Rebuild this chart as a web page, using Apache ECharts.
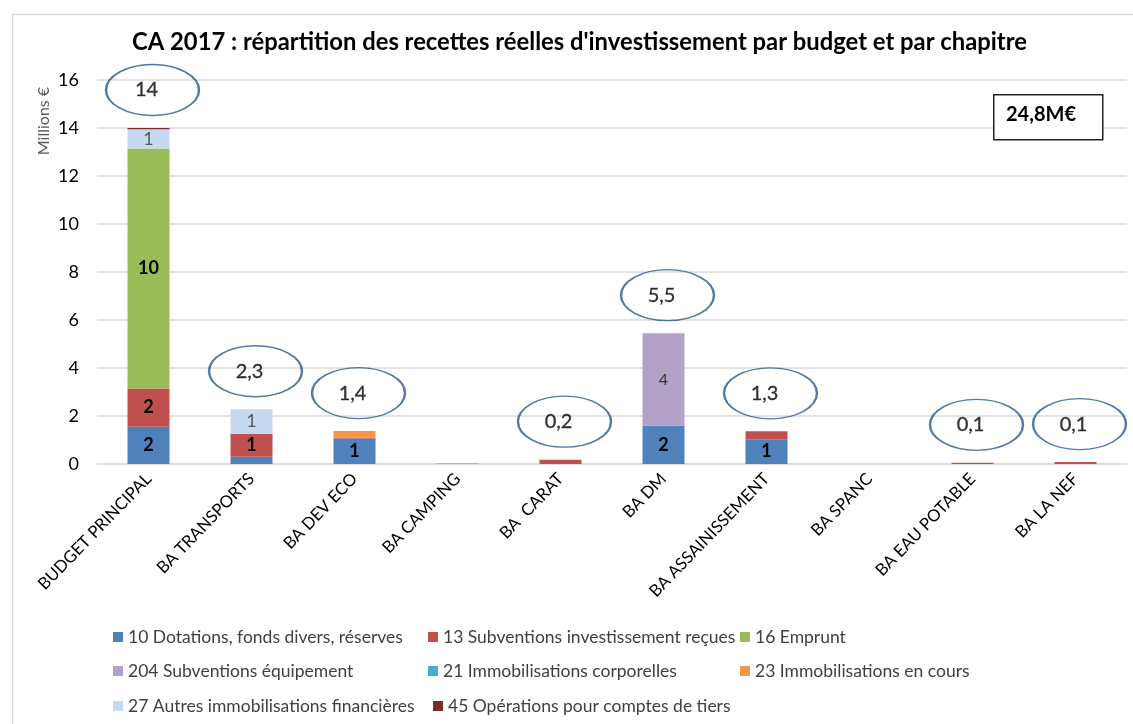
<!DOCTYPE html>
<html>
<head>
<meta charset="utf-8">
<script src="https://cdn.jsdelivr.net/npm/echarts@6/dist/echarts.min.js"></script>
<style>html,body{margin:0;padding:0;background:#fff}#c{width:1133px;height:724px}</style>
</head>
<body>
<div id="c"></div>
<script>
const categories = ['BUDGET PRINCIPAL','BA TRANSPORTS','BA DEV ECO','BA CAMPING','BA  CARAT','BA DM','BA ASSAINISSEMENT','BA SPANC','BA EAU POTABLE','BA LA NEF'];
const seriesNames = ['10 Dotations, fonds divers, réserves','13 Subventions investissement reçues','16 Emprunt','204 Subventions équipement','21 Immobilisations corporelles','23 Immobilisations en cours','27 Autres immobilisations financières','45 Opérations pour comptes de tiers'];
const dotations   = [1.55, 0.30, 1.06, 0,    0,    1.60, 1.03, 0, 0,    0];
const subventions = [1.60, 0.95, 0.04, 0,    0.18, 0,    0.33, 0, 0.05, 0.08];
const emprunt     = [10.00,0,    0,    0.03, 0,    0,    0,    0, 0,    0];
const subEquip    = [0,    0,    0,    0,    0,    3.85, 0,    0, 0,    0];
const immoCorp    = [0,    0,    0,    0,    0,    0,    0,    0, 0,    0];
const immoCours   = [0,    0,    0.27, 0,    0,    0,    0,    0, 0,    0];
const autresImmo  = [0.80, 1.03, 0,    0,    0,    0,    0,    0, 0,    0];
const opTiers     = [0.05, 0,    0,    0,    0,    0,    0,    0, 0,    0];
const totalLabels = ['14','2,3','1,4','','0,2','5,5','1,3','','0,1','0,1'];
const yTicks = [0,2,4,6,8,10,12,14,16];

const seriesValues = [dotations, subventions, emprunt, subEquip, immoCorp, immoCours, autresImmo, opTiers];
const colors = ['#4F81BD','#C0504D','#9BBB59','#B3A2C7','#4BACC6','#F79646','#C6D9F1','#772C2A'];
const labelStyles = [
  {color:'#000', fontWeight:'bold', fontSize:18},
  {color:'#000', fontWeight:'bold', fontSize:18},
  {color:'#000', fontWeight:'bold', fontSize:18},
  {color:'#333', fontWeight:'normal', fontSize:16},
  {color:'#000', fontWeight:'normal', fontSize:16},
  {color:'#000', fontWeight:'normal', fontSize:16},
  {color:'#595959', fontWeight:'normal', fontSize:18},
  {color:'#fff', fontWeight:'normal', fontSize:16}
];
const FONT = 'Lato';
const totals = categories.map((c,i)=>seriesValues.reduce((s,arr)=>s+arr[i],0));

const barSeries = seriesNames.map((name,k)=>({
  name: name,
  type: 'bar',
  stack: 'total',
  barWidth: 42,
  data: seriesValues[k],
  itemStyle: {color: colors[k]},
  label: {
    show: true,
    position: 'inside',
    fontFamily: FONT,
    color: labelStyles[k].color,
    fontWeight: labelStyles[k].fontWeight,
    fontSize: labelStyles[k].fontSize,
    formatter: p => p.value >= 0.5 ? String(Math.round(p.value)) : ''
  },
  emphasis: {disabled: true}
}));

const ellipsePath = 'path://M0,50 A50,50 0 1 1 100,50 A50,50 0 1 1 0,50 Z';
const bubbleSeries = {
  type: 'scatter',
  name: 'totaux',
  symbol: ellipsePath,
  symbolSize: [93, 51],
  symbolOffset: [4, -38],
  z: 10,
  data: categories.map((c,i)=> totalLabels[i] ? {value:[i, totals[i]], name: totalLabels[i]} : {value:[i, null]}),
  itemStyle: {color: 'rgba(255,255,255,0)', borderColor: '#2B578A', borderWidth: 1.8},
  label: {
    show: true,
    position: 'inside',
    offset: [-6, 0],
    fontFamily: FONT,
    fontSize: 20,
    color: '#000',
    textBorderColor: '#000',
    textBorderWidth: 0.3,
    formatter: p => p.name || ''
  },
  emphasis: {disabled: true},
  silent: true
};

const legendPos = [
  [113,628],[428,628],[740,628],
  [113,662],[428,662],[740,662],
  [113,697],[433,697]
];
const legends = seriesNames.map((n,k)=>({
  data: [n],
  left: legendPos[k][0],
  top: legendPos[k][1],
  icon: 'rect',
  itemWidth: 10,
  itemHeight: 10,
  itemGap: 4,
  padding: 0,
  textStyle: {fontFamily: FONT, fontSize: 17.5, color: '#404040', padding:[0,0,0,0]},
  selectedMode: false
}));

const chart = echarts.init(document.getElementById('c'));
chart.setOption({
  animation: false,
  backgroundColor: '#fff',
  textStyle: {fontFamily: FONT},
  title: {
    text: "CA 2017 : répartition des recettes réelles d'investissement par budget et par chapitre",
    left: 132,
    top: 30,
    padding: 0,
    textStyle: {fontFamily: FONT, fontSize: 23.8, fontWeight: 'bold', color: '#000'}
  },
  legend: legends,
  grid: {left: 97, top: 80, width: 1030, height: 384, containLabel: false},
  xAxis: {
    type: 'category',
    data: categories,
    axisLine: {lineStyle: {color: '#D9D9D9', width: 1.5}},
    axisTick: {show: false},
    axisLabel: {rotate: 46, interval: 0, fontFamily: FONT, fontSize: 16.7, color: '#000', margin: 12}
  },
  yAxis: {
    type: 'value',
    min: yTicks[0],
    max: yTicks[yTicks.length-1],
    interval: 2,
    axisLine: {show: false},
    axisTick: {show: false},
    splitLine: {lineStyle: {color: '#D9D9D9', width: 1.5}},
    axisLabel: {fontFamily: FONT, fontSize: 18, color: '#000', margin: 18}
  },
  graphic: [
    {type:'rect', left:10, top:12, shape:{width:1140, height:730}, style:{fill:'none', stroke:'#D9D9D9', lineWidth:1.5}, silent:true},
    {type:'text', x:44, y:121, rotation: Math.PI/2, style:{text:'Millions €', fontFamily:FONT, fontSize:16, fill:'#595959', align:'center', verticalAlign:'middle'}},
    {type:'rect', left:993, top:94, shape:{width:109, height:45}, style:{fill:'#fff', stroke:'#222', lineWidth:1.5}, z:20},
    {type:'text', left:1006, top:105, style:{text:'24,8M€', fontFamily:FONT, fontSize:20, fontWeight:'bold', fill:'#000'}, z:21}
  ],
  series: barSeries.concat([bubbleSeries])
});
</script>
</body>
</html>
